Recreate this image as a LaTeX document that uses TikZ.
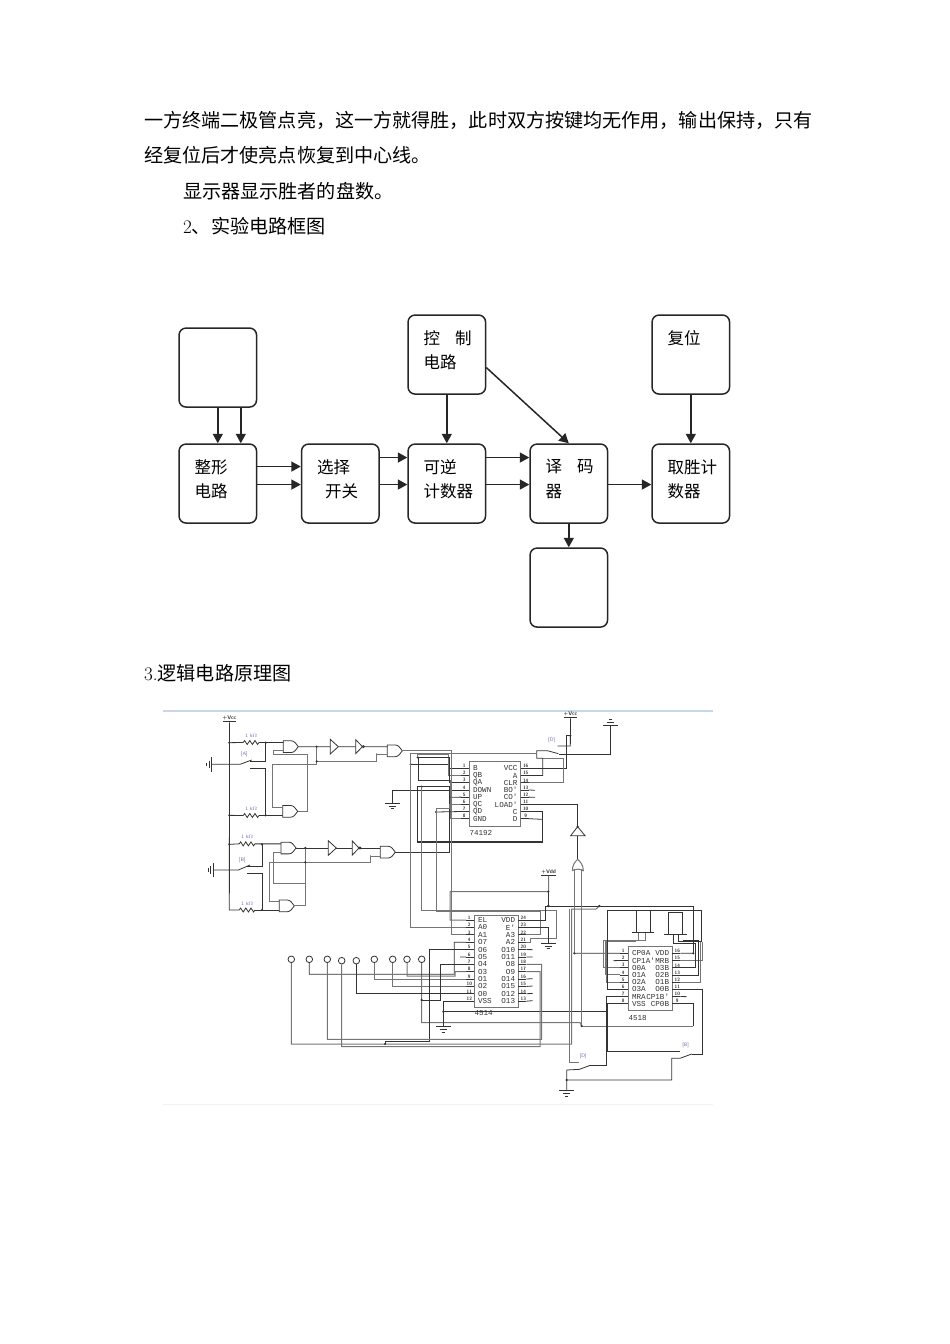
\documentclass[tikz,border=0pt]{standalone}
\usepackage{fontspec}
\usetikzlibrary{arrows.meta}
\newfontfamily\cjk{Noto Sans CJK SC}
\newfontfamily\chipfont{Liberation Mono}
\definecolor{wirecol}{HTML}{333333}
\definecolor{litecol}{HTML}{757575}
\definecolor{ohmcol}{HTML}{6A6AB4}
\definecolor{framecol}{HTML}{C5D9EA}
\tikzset{
    bodytext/.style={anchor=west,inner sep=0pt,font=\cjk\fontsize{19.1}{23}\selectfont},
    blockbox/.style={draw=black!85,line width=1.5pt,rounded corners=7pt,minimum width=77.5pt,minimum height=79pt,anchor=north west,inner sep=0pt},
    blocktext/.style={anchor=north west,inner sep=0pt,align=left,font=\cjk\fontsize{16.5}{24.5}\selectfont},
    flow/.style={draw=black!85,line width=1.5pt,-{Triangle[length=9.5pt,width=10pt]}},
    wire/.style={draw=wirecol,line width=.8pt},
    lite/.style={draw=litecol,line width=1pt},
    chipline/.style={draw=litecol,line width=1pt},
    pinlabel/.style={inner sep=0pt,text=wirecol,font=\chipfont\fontsize{7.6}{8}\selectfont},
    pinnum/.style={inner sep=0pt,text=wirecol,font=\sffamily\bfseries\fontsize{4.8}{5}\selectfont},
    ohm/.style={inner sep=0pt,text=ohmcol,font=\sffamily\fontsize{5}{6}\selectfont},
    rail/.style={inner sep=0pt,text=wirecol,font=\sffamily\bfseries\fontsize{5.4}{6}\selectfont},
    pad/.style={draw=wirecol,line width=.8pt,circle,minimum size=6.6pt,inner sep=0pt,fill=white},
    z1/.style={shift={(160,700)},scale=1/3},
    z2/.style={shift={(400,700)},scale=1/3},
    z3/.style={shift={(270,890)},scale=1/3},
    z4/.style={shift={(530,890)},scale=1/3},
}
\newcommand{\block}[4] {
    \node[blockbox] (#1) at (#2-.7, #3-.7) {};
    \node[blocktext] (#1-t) at ([xshift=16pt,yshift=-16pt]#1.north west) {#4};
}
\newcommand{\gateg}[3] {
    \begin{scope}[shift={(#2, #3)}]
        \draw[wire] (0,0) -- (8,0) .. controls (11,0) and (13,3) .. (15,5.85) .. controls (13,8.7) and (11,11.7) .. (8,11.7) -- (0,11.7) -- cycle;
        \coordinate (#1-a) at (0,1.7);
        \coordinate (#1-b) at (0,10);
        \coordinate (#1-o) at (15,5.85);
    \end{scope}
}
\newcommand{\bufferg}[3] {
    \draw[wire] (#2, #3-7.3) -- (#2+8, #3) -- (#2, #3+7.3) -- cycle;
    \coordinate (#1-i) at (#2, #3);
    \coordinate (#1-o) at (#2+8, #3);
}
\newcommand{\inverterg}[3] {
    \draw[wire] (#2, #3-7) -- (#2+6.7, #3) -- (#2, #3+7) -- cycle;
    \draw[wire] (#2+7.7, #3) circle (1);
    \coordinate (#1-i) at (#2, #3);
    \coordinate (#1-o) at (#2+8.7, #3);
}
\newcommand{\resistor}[3] {
    \coordinate (#1-w) at (#2, #3);
    \draw[wire] (#1-w) -- ++(1.3,-2) -- ++(2.6,4) -- ++(2.6,-4) -- ++(2.6,4) -- ++(2.6,-4) -- ++(2.6,4) -- ++(1.3,-2) coordinate (#1-e);
    \node[ohm] (#1-v) at (#2+8, #3-6.7) {1 k$\Omega$};
}
\newcommand{\groundg}[4] {
    \begin{scope}[shift={(#2, #3)},rotate=#4]
        \coordinate (#1-t) at (0,0);
        \draw[wire] (-7.3,0) -- (7.3,0);
        \draw[wire] (-3.6,2.7) -- (3.6,2.7);
        \draw[wire] (-1.6,5.4) -- (1.6,5.4);
    \end{scope}
}
\newcommand{\dipchip}[9] {
    \draw[chipline] (#2, #4) rectangle (#3, #5);
    \foreach \lab/\num [count=\i from 0] in {#8} {
        \pgfmathsetmacro{\ypin}{#6+\i*#7}
        \coordinate (#1-\num) at (#2-8, \ypin);
        \draw[wire] (#1-\num) -- (#2, \ypin);
        \node[pinlabel,anchor=west] (#1-l\num) at (#2+3.6, \ypin) {\lab};
        \node[pinnum] (#1-n\num) at (#2-5, \ypin-2.4) {\num};
    }
    \foreach \lab/\num [count=\i from 0] in {#9} {
        \pgfmathsetmacro{\ypin}{#6+\i*#7}
        \coordinate (#1-\num) at (#3+8, \ypin);
        \draw[wire] (#3, \ypin) -- (#1-\num);
        \node[pinlabel,anchor=east] (#1-l\num) at (#3-3, \ypin) {\lab};
        \node[pinnum] (#1-n\num) at (#3+5, \ypin-2.4) {\num};
    }
}
\begin{document}
\begin{tikzpicture}[x=1pt,y=-1pt]
    \useasboundingbox (0,0) rectangle (950,1344);
    % page text
    \node[bodytext] (line1) at (144,120) {一方终端二极管点亮，这一方就得胜，此时双方按键均无作用，输出保持，只有};
    \node[bodytext] (line2) at (144,155) {经复位后才使亮点恢复到中心线。};
    \node[bodytext] (line3) at (183,191) {显示器显示胜者的盘数。};
    \node[bodytext] (line4) at (183,226) {{\rmfamily 2}、实验电路框图};
    \node[bodytext] (line5) at (144,673) {{\rmfamily 3.}逻辑电路原理图};
    % block diagram
    \block{keys}{179}{328}{}
    \block{shaper}{179}{444}{整形\\电路}
    \block{selector}{301.5}{444}{选择\\\hspace{8pt}开关}
    \block{counter}{408}{444}{可逆\\计数器}
    \block{decoder}{530}{444}{译\hspace{15pt}码\\器}
    \block{tally}{652}{444}{取胜计\\数器}
    \block{control}{408}{315}{控\hspace{15pt}制\\电路}
    \block{reset}{652}{315}{复位}
    \block{display}{530}{548}{}
    \draw[flow] (keys.south) -- (shaper.north);
    \draw[flow] ([xshift=23pt]keys.south) -- ([xshift=23pt]shaper.north);
    \draw[flow] ([yshift=17pt]shaper.east) -- ([yshift=17pt]selector.west);
    \draw[flow] ([yshift=-1pt]shaper.east) -- ([yshift=-1pt]selector.west);
    \draw[flow] ([yshift=26pt]selector.east) -- ([yshift=26pt]counter.west);
    \draw[flow] ([yshift=-1pt]selector.east) -- ([yshift=-1pt]counter.west);
    \draw[flow] ([yshift=26pt]counter.east) -- ([yshift=26pt]decoder.west);
    \draw[flow] ([yshift=-1pt]counter.east) -- ([yshift=-1pt]decoder.west);
    \draw[flow] ([yshift=-1pt]decoder.east) -- ([yshift=-1pt]tally.west);
    \draw[flow] (control.south) -- (counter.north);
    \draw[flow] ([yshift=-13pt]control.east) -- (decoder.north);
    \draw[flow] (reset.south) -- (tally.north);
    \draw[flow] (decoder.south) -- (display.north);
    % schematic frame
    \draw[draw=framecol,line width=1.2pt] (163,711) -- (713,711);
    \draw[draw=black!5,line width=.6pt] (163,1104) -- (713,1104);
    % parts
    \dipchip{ua}{469.3}{520.7}{761.7}{826}{768.3}{7.2}{B/1,QB/2,QA/3,DOWN/4,UP/5,QC/6,QD/7,GND/8}{VCC/16,A/15,CLR/14,BO'/13,CO'/12,LOAD'/11,C/10,D/9}
    \dipchip{ub}{474.3}{518.3}{915}{1007.3}{920}{7.38}{EL/1,A0/2,A1/3,O7/4,O6/5,O5/6,O4/7,O3/8,O1/9,O2/10,O0/11,VSS/12}{VDD/24,E'/23,A3/22,A2/21,O10/20,O11/19,O8/18,O9/17,O14/16,O15/15,O12/14,O13/13}
    \dipchip{uc}{628.3}{672.3}{946.7}{1010.7}{953.3}{7.2}{CP0A/1,CP1A'/2,O0A/3,O1A/4,O2A/5,O3A/6,MRA/7,VSS/8}{VDD/16,MRB/15,O3B/14,O2B/13,O1B/12,O0B/11,CP1B'/10,CP0B/9}
    \node[pinlabel,anchor=west] (ua-name) at (469.3,832.5) {74192};
    \node[pinlabel,anchor=west] (ub-name) at (474.3,1013.5) {4514};
    \node[pinlabel,anchor=west] (uc-name) at (628.3,1017.5) {4518};
    \gateg{g1}{283.3}{740.8}
    \gateg{g2}{282.7}{805.5}
    \gateg{g3}{387.3}{744.95}
    \gateg{g4}{281}{842.15}
    \gateg{g5}{279.3}{900}
    \gateg{g6}{380.3}{846.3}
    \bufferg{b1}{330.3}{746.65}
    \inverterg{i1}{355.7}{746.65}
    \bufferg{b2}{328.3}{848}
    \inverterg{i2}{352.3}{848}
    \resistor{r1}{243.3}{742.5}
    \resistor{r2}{243.3}{815.5}
    \resistor{r3}{239.3}{843.85}
    \resistor{r4}{239.3}{910}
    \groundg{e1}{211.7}{764.3}{-90}
    \groundg{e2}{213.3}{870}{-90}
    \groundg{e3}{392.3}{803.3}{0}
    \groundg{e4}{610.7}{725}{180}
    \groundg{e5}{548.3}{943.3}{0}
    \groundg{e6}{443.3}{1026.7}{0}
    \groundg{e7}{566.7}{1090.7}{0}
    \foreach \name/\px/\py in {c1/291.3/959.3,c2/309.3/959.3,c3/327.3/959.3,c4/341.7/960.7,c5/356.3/960.7,c6/374.3/959.3,c7/392.7/959.3,c8/407/959.3,c9/421.7/959.3} {
        \node[pad] (\name) at (\px,\py) {};
    }
    \node[rail] (vcc1) at (229.5,719) {\underline{+Vcc}};
    \node[rail] (vcc2) at (570.5,715) {\underline{+Vcc}};
    \node[rail] (vdd) at (548.7,872.5) {\underline{+Vdd}};
    \node[ohm] (swa) at (244.3,754.5) {[A]};
    \node[ohm] (swb) at (242.3,860) {[B]};
    \node[ohm] (swd) at (551.7,740) {[D]};
    \node[ohm] (swe) at (583.3,1056) {[D]};
    \node[ohm] (swf) at (685.7,1045) {[B]};
    % input side
    \begin{scope}[z1]
        \draw[wire] (vcc1.south) -- (208,630) -- (r4-w);
        \draw[wire] (208,128) -- (r1-w) (r1-e) -- (g1-a);
        \draw[wire] (208,346) -- (r2-w) (r2-e) -- (g2-b);
        \draw[wire] (208,433) -- (r3-w) (r3-e) -- (g4-a);
        \draw[wire] (r4-e) -- (g5-b);
        \draw[wire] (e1-t) -- (240,193) -- (275,180);
        \draw[wire] (317,128) -- (317,183) -- (270,183);
        \draw[wire] (270,205) -- (317,205) -- (317,346);
        \draw[wire] (e2-t) -- (235,510) -- (270,495);
        \draw[wire] (306,433) -- (306,498) -- (262,498);
        \draw[wire] (262,520) -- (306,520) -- (306,630);
        \draw[wire] (g1-o) -- (b1-i) (b1-o) -- (i1-i) (i1-o) -- (g3-a);
        \draw[wire] (g4-o) -- (b2-i) (b2-o) -- (i2-i) (i2-o) -- (g6-a);
        \draw[lite] (g1-b) -| (340,162) -- (443,162) |- (g2-o);
        \draw[lite] (g2-a) -| (338,192) -- (470,192) -- (470,140);
        \draw[lite] (470,184) -| (650,160) |- (g3-b);
        \draw[lite] (g4-b) -| (341,549) -- (436,549) -- (436,444);
        \draw[lite] (g5-a) -| (328,487) -- (436,487);
        \draw[lite] (g5-o) -| (436,549);
        \draw[lite] (436,487) -| (632,466) |- (g6-b);
        \foreach \p in {(208,128),(317,128),(208,346),(317,346),(208,433),(306,433),(306,630),(470,140),(470,184),(436,444),(436,487),(752,193),(773,172),(785,260)} {
            \fill[wirecol] \p circle (3.6);
        }
    \end{scope}
    % around the 74192
    \begin{scope}[z2]
        \draw[wire] (vcc2.south) -- (511,138) -- (473,138);
        \draw[wire] (ua-16) -| (500,107) -- (511,107);
        \draw[wire] (ua-15) -| (428,175) -- (410,175) -- (410,152) -- (442,152) -- (475,161);
        \draw[lite] (ua-14) -| (490,175) -- (428,175);
        \draw[wire] (478,162) -| (e4-t);
        \draw[wire] (ua-13) -- (405,271);
        \draw[wire] (ua-12) -- (405,292);
        \draw[wire] (ua-11) -| (533,380);
        \draw[wire] (533,380) -- (555,407) -- (512,407) -- cycle;
        \draw[wire] (533,407) -- (533,478);
        \draw[lite] (517,512) .. controls (517,495) and (525,485) .. (533,478) .. controls (541,485) and (550,495) .. (550,512) .. controls (540,506) and (527,506) .. (517,512);
        \draw[lite] (523,508) -- (523,600);
        \draw[lite] (545,508) -- (545,600);
        \draw[wire] (ua-1) -| (145,193) -- (31,193);
        \draw[lite] (ua-2) -| (145,163) -- (52,163) -- (52,172);
        \draw[wire] (ua-3) -| (148,172) -- (55,172) -- (55,240) -- (150,240);
        \draw[wire] (ua-4) -| (e3-t);
        \draw[lite] (ua-8) -| (150,240);
        \draw[wire] (g6-o) -| (148,260) -- (52,260);
        \draw[wire] (52,260) -- (52,426);
        \draw[wire] (ua-5) -- (148,292);
        \draw[lite] (ua-6) -| (148,325) -- (108,325);
        \draw[wire] (ua-7) -- (108,336);
        \draw[line width=1.1pt,draw=wirecol] (52,426) -- (428,426);
        \draw[wire] (ua-10) -| (428,426);
        \draw[wire] (ua-9) -- (428,358);
        \foreach \p in {(511,107),(533,380),(108,336)} {
            \fill[wirecol] \p circle (3.6);
        }
    \end{scope}
    % long runs between the chips
    \draw[lite] (536.67,753.33) -- (410.67,753.33) |- (ub-2);
    \draw[lite] (421.67,786.67) -- (421.67,910.67) -- (556,910.67) -- (556,938.33) -- (530,938.33) |- (ub-21);
    \draw[lite] (436,808.33) -- (436,911.67) -- (540,911.67) |- (ub-22);
    \draw[lite] (g3-o) -| (451.67,891.67) |- (ub-3);
    \draw[lite] (vdd.south) -- (548.67,891.67) -- (450,891.67) |- (ub-1);
    \draw[wire] (443.33,1011.67) -- (607.33,1011.67);
    \draw[lite] (c9) |- (580,1022.5) -- (581.67,1026);
    \draw[lite] (c1) |- (571.67,1044) -- (571.67,909) -- (596,909) -- (599.33,906);
    % around the 4514
    \begin{scope}[z3]
        \draw[wire] (835,5) -- (835,48) -- (825,48) |- (ub-24);
        \draw[wire] (ub-23) -| (e5-t);
        \draw[wire] (ub-20) -- (788,179);
        \draw[wire] (ub-19) -- (788,201);
        \draw[wire] (ub-16) -- (788,266);
        \draw[wire] (ub-15) -- (788,288);
        \draw[wire] (ub-14) -- (788,310);
        \draw[wire] (ub-13) -- (788,332);
        \draw[wire] (ub-6) -- (570,201);
        \draw[wire] (ub-4) -| (553,253) -- (118,253) -- (c2);
        \draw[lite] (ub-8) -| (555,258) -- (411,258) -- (c8);
        \draw[lite] (ub-9) -| (c6);
        \draw[lite] (ub-10) -| (c7);
        \draw[wire] (ub-11) -| (c5);
        \draw[wire] (ub-7) -| (510,330) -- (455,330);
        \draw[wire] (ub-5) -| (478,453) -- (345,453) -- (345,462);
        \draw[wire] (ub-12) -| (e6-t);
        \draw[lite] (c3) |- (815,448) -- (815,223) -- (ub-18);
        \draw[lite] (c4) |- (810,470) -- (810,245) -- (ub-17);
        \foreach \p in {(835,5),(835,48),(455,330),(520,365),(345,462)} {
            \fill[wirecol] \p circle (3.6);
        }
    \end{scope}
    % around the 4518
    \begin{scope}[z4]
        \draw[wire] (55,48) -- (490,48) -- (490,190);
        \draw[wire] (uc-16) -- (490,190);
        \draw[lite] (133,0) -- (133,190);
        \draw[wire] (133,190) -- (uc-1);
        \draw[lite] (155,0) -- (155,408) -- (490,408);
        \draw[wire] (uc-9) -| (490,408);
        \draw[wire] (uc-2) -- (250,212);
        \draw[lite] (uc-3) -| (220,150) -- (325,150) -- (325,128);
        \draw[lite] (uc-4) -| (225,152) -- (345,152) -- (345,128);
        \draw[lite] (uc-5) -| (230,155) -- (318,155);
        \draw[wire] (uc-6) -| (232,60) -- (515,60) -- (515,155);
        \draw[wire] (uc-7) -| (230,525) -- (178,525);
        \draw[wire] (uc-8) -| (232,485) -- (450,485);
        \draw[wire] (318,128) -- (318,60) -- (360,60) -- (360,128);
        \draw[wire] (415,133) -- (415,68) -- (458,68) -- (458,133);
        \draw[wirecol,line width=1pt] (305,128) -- (372,128);
        \draw[wirecol,line width=1pt] (403,133) -- (470,133);
        \draw[wire] (430,133) -- (430,160);
        \draw[wire] (445,133) -- (445,155) -- (515,155);
        \draw[lite] (uc-15) -| (517,155);
        \draw[wire] (uc-14) -| (495,160) -- (430,160);
        \draw[wire] (uc-13) -| (505,150) -- (458,150);
        \draw[lite] (uc-12) -| (510,155);
        \draw[wire] (uc-11) -| (518,493) -- (487,493);
        \draw[wire] (uc-10) -- (470,320);
        \draw[lite] (117,57) -- (117,517) -- (148,517);
        \draw[wire] (e7-t) -- (110,540) -- (148,538) -- (178,527);
        \draw[wire] (110,570) -- (425,570) -- (425,505) -- (450,505) -- (485,492);
        \foreach \p in {(55,48),(208,48),(490,190),(133,190),(155,408),(110,570)} {
            \fill[wirecol] \p circle (3.6);
        }
    \end{scope}
\end{tikzpicture}
\end{document}
